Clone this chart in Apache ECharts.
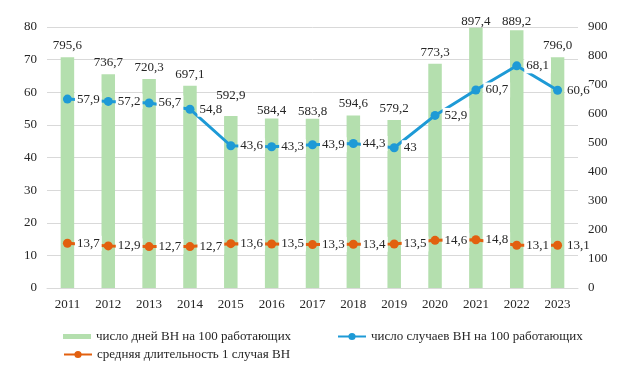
<!DOCTYPE html>
<html>
<head>
<meta charset="utf-8">
<script src="https://cdn.jsdelivr.net/npm/echarts@6/dist/echarts.min.js"></script>
<style>
html,body{margin:0;padding:0;background:#fff;}
#chart{width:627px;height:370px;}
</style>
</head>
<body>
<div id="chart"></div>
<script>
const categories = ['2011','2012','2013','2014','2015','2016','2017','2018','2019','2020','2021','2022','2023'];
const daysPer100 = [795.6,736.7,720.3,697.1,592.9,584.4,583.8,594.6,579.2,773.3,897.4,889.2,796.0];
const casesPer100 = [57.9,57.2,56.7,54.8,43.6,43.3,43.9,44.3,43,52.9,60.7,68.1,60.6];
const avgDuration = [13.7,12.9,12.7,12.7,13.6,13.5,13.3,13.4,13.5,14.6,14.8,13.1,13.1];

const nameDays = 'число дней ВН на 100 работающих';
const nameCases = 'число случаев ВН на 100 работающих';
const nameDur = 'средняя длительность 1 случая ВН';

const FONT = "'Liberation Serif', 'Times New Roman', serif";
const TXT = '#262626';
const comma1 = v => v.toFixed(1).replace('.', ',');
const commaRaw = v => String(v).replace('.', ',');

// small vertical nudges of bar value labels (as placed in the original layout)
const barLabelShift = { 4: -9, 5: 4, 6: 4, 10: 5, 11: 3 };

const lineLabel = {
  show: true, position: 'right', distance: 3,
  fontFamily: FONT, fontSize: 13, color: TXT,
  backgroundColor: '#ffffff', padding: [1, 2],
  formatter: p => commaRaw(p.value)
};

const legendText = { fontFamily: FONT, fontSize: 13, color: TXT };

function labelSeries(data, name) {
  return {
    name: name, type: 'line', yAxisIndex: 0, data: data, z: 6,
    symbol: 'circle', symbolSize: 9, silent: true,
    lineStyle: { opacity: 0, width: 0 },
    itemStyle: { color: 'rgba(0,0,0,0)' },
    label: lineLabel, legendHoverLink: false
  };
}

const chart = echarts.init(document.getElementById('chart'), null, { renderer: 'canvas' });
chart.setOption({
  animation: false,
  backgroundColor: '#ffffff',
  grid: { left: 47, right: 49, top: 27, bottom: 82 },
  legend: [
    { left: 58, top: 325, itemWidth: 28, itemHeight: 9, textStyle: legendText,
      data: [{ name: nameDays, icon: 'path://M0,0H28V5H0Z' }] },
    { left: 332, top: 325, itemWidth: 28, itemHeight: 9, textStyle: legendText,
      data: [nameCases] },
    { left: 58, top: 343, itemWidth: 28, itemHeight: 9, textStyle: legendText,
      data: [nameDur] }
  ],
  xAxis: {
    type: 'category', data: categories, boundaryGap: true,
    axisLine: { lineStyle: { color: '#d9d9d9', width: 1 } },
    axisTick: { show: false },
    axisLabel: { fontFamily: FONT, fontSize: 13, color: TXT, margin: 10 }
  },
  yAxis: [
    { type: 'value', min: 0, max: 80, interval: 10,
      axisLine: { show: false }, axisTick: { show: false },
      splitLine: { lineStyle: { color: '#d9d9d9', width: 1 } },
      axisLabel: { fontFamily: FONT, fontSize: 13, color: TXT, margin: 10 } },
    { type: 'value', min: 0, max: 900, interval: 100, position: 'right',
      axisLine: { show: false }, axisTick: { show: false },
      splitLine: { show: false },
      axisLabel: { fontFamily: FONT, fontSize: 13, color: TXT, margin: 10 } }
  ],
  series: [
    { name: nameDays, type: 'bar', yAxisIndex: 1, data: daysPer100, barWidth: 13.5, z: 2,
      itemStyle: { color: '#b4dfae' },
      label: { show: true, position: 'top', distance: 5, fontFamily: FONT, fontSize: 13, color: TXT,
               formatter: p => comma1(p.value) },
      labelLayout: p => (barLabelShift[p.dataIndex] ? { dy: barLabelShift[p.dataIndex] } : {}) },
    { name: nameCases, type: 'line', yAxisIndex: 0, data: casesPer100, z: 3,
      symbol: 'circle', symbolSize: 9, color: '#1e9ad6',
      lineStyle: { color: '#1e9ad6', width: 3 }, itemStyle: { color: '#1e9ad6' } },
    { name: nameDur, type: 'line', yAxisIndex: 0, data: avgDuration, z: 3,
      symbol: 'circle', symbolSize: 9, color: '#e2600f',
      lineStyle: { color: '#e2600f', width: 3 }, itemStyle: { color: '#e2600f' } },
    labelSeries(casesPer100, 'labels-cases'),
    labelSeries(avgDuration, 'labels-duration')
  ]
});
</script>
</body>
</html>
